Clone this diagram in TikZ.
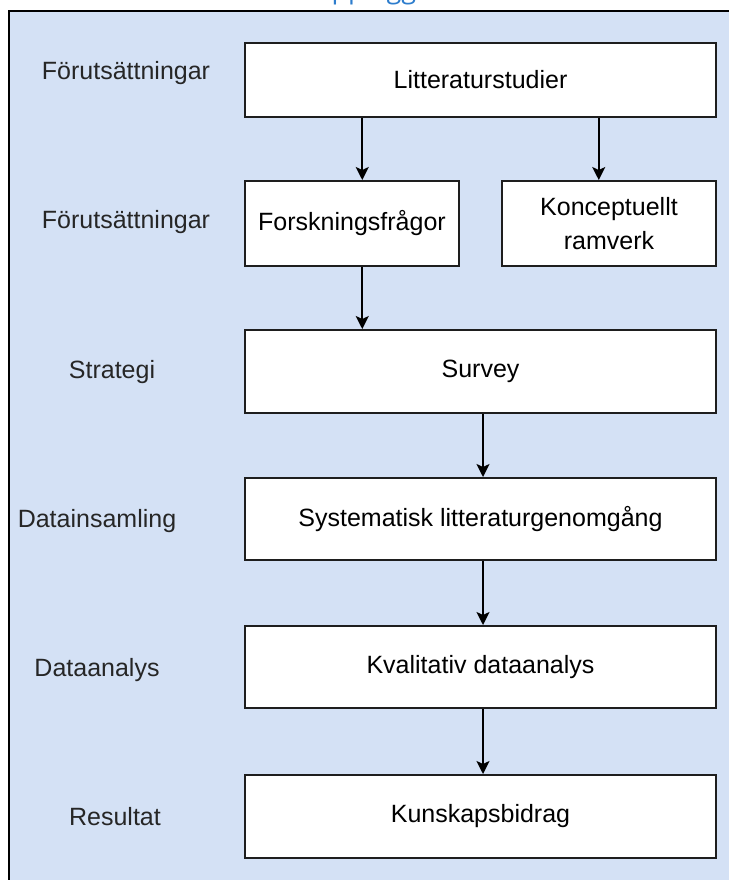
\documentclass[tikz,border=0pt]{standalone}
\usepackage{fontspec}
\setmainfont{Liberation Sans}
\newfontfamily\titlefont{Open Sans}
\usepackage{tikz}
\usetikzlibrary{calc, arrows.meta}
\definecolor{panel}{RGB}{212, 225, 245}
\definecolor{titleblue}{RGB}{45, 125, 205}
\definecolor{edge}{RGB}{30, 30, 30}

\begin{document}
\begin{tikzpicture}[x=1pt, y=-1pt,
    font=\fontsize{25}{34}\selectfont,
    box/.style={draw=edge, line width=2pt, fill=white, inner sep=0pt, align=center},
    pil/.style={-{Stealth[length=13pt, width=13pt, inset=3pt]}, line width=1.8pt, color=black},
    stage/.style={text=black!85}]
  \useasboundingbox (0, 0) rectangle (728, 880);

  \fill[color=white] (0, 0) rectangle (728, 880);
  \draw[fill=panel, line width=2pt] (9, 11) rectangle (745, 900);

  % titel, bara underdelen syns
  \node[anchor=base, text=titleblue, font=\titlefont\fontsize{27}{30}\selectfont] (title) at (364, -1) {Upplägg};

  % steg till vänster
  \node[stage] (s1) at (126, 73) {Förutsättningar};
  \node[stage] (s2) at (126, 222) {Förutsättningar};
  \node[stage] (s3) at (112, 372) {Strategi};
  \node[stage] (s4) at (97, 521) {Datainsamling};
  \node[stage] (s5) at (97, 670) {Dataanalys};
  \node[stage] (s6) at (115, 817) {Resultat};

  % rutor
  \node[box, minimum width=471pt, minimum height=74pt] (lit) at (480.5, 80) {Litteraturstudier};
  \node[box, minimum width=214pt, minimum height=85pt] (ff) at (352, 223.5) {Forskningsfrågor};
  \node[box, minimum width=214pt, minimum height=85pt] (kr) at (609, 223.5) {Konceptuellt\\ramverk};
  \node[box, minimum width=471pt, minimum height=83pt] (sur) at (480.5, 371.5) {Survey};
  \node[box, minimum width=471pt, minimum height=82pt] (sys) at (480.5, 519) {Systematisk litteraturgenomgång};
  \node[box, minimum width=471pt, minimum height=82pt] (kva) at (480.5, 667) {Kvalitativ dataanalys};
  \node[box, minimum width=471pt, minimum height=83pt] (kun) at (480.5, 816.5) {Kunskapsbidrag};

  % pilar
  \coordinate (a1) at ($(lit.south west)!.25!(lit.south east)$);
  \coordinate (a2) at ($(lit.south west)!.75!(lit.south east)$);
  \draw[pil] (a1) -- (a1 |- ff.north);
  \draw[pil] (a2) -- (a2 |- kr.north);
  \draw[pil] (a1 |- ff.south) -- (a1 |- sur.north);
  \draw[pil] ([xshift=2.5pt]sur.south) -- ([xshift=2.5pt]sys.north);
  \draw[pil] ([xshift=2.5pt]sys.south) -- ([xshift=2.5pt]kva.north);
  \draw[pil] ([xshift=2.5pt]kva.south) -- ([xshift=2.5pt]kun.north);

\end{tikzpicture}
\end{document}
